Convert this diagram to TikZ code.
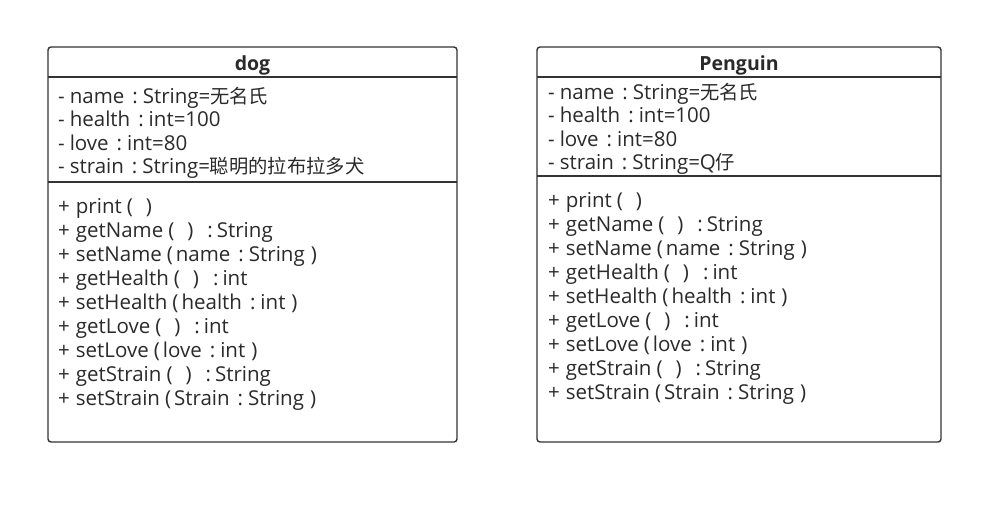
\documentclass[tikz,border=0pt]{standalone}
\usepackage{fontspec}
\setmainfont{Open Sans}
\newfontfamily\cjkf{Noto Sans CJK SC}
\newcommand\cjk[1]{{\cjkf\fontsize{19.3}{24}\selectfont #1}}
\definecolor{lc}{HTML}{333333}
\definecolor{tc}{HTML}{2A2A2A}
\newcommand\hs[1]{\hspace{#1pt}}
\newcommand\cl{\hs{8}:\hs{5}}
\newcommand\pcl{\hs{14}:\hs{4}}
\newcommand\ep{\hs{5}(\hs{13})}
\newcommand\op{\hs{5}(\hs{3}}
\newcommand\cp{\hs{6})}
\newcommand\mi{-\hs{5}}
\newcommand\pl{+\hs{6}}
\begin{document}
\begin{tikzpicture}[x=1pt,y=-1pt,
  box/.style={draw=lc,line width=1.4pt,rounded corners=3pt},
  sep/.style={draw=lc,line width=1.4pt},
  txt/.style={anchor=base west,inner sep=0pt,text=tc,font=\fontsize{20.5}{24}\selectfont},
  ttl/.style={anchor=base,inner sep=0pt,text=tc,font=\fontsize{19.5}{24}\selectfont\bfseries}]
\useasboundingbox (0,0) rectangle (1002,504);
% dog
\draw[box] (48,47) rectangle (457,442);
\draw[sep] (48,77) -- (457,77);
\draw[sep] (48,182) -- (457,182);
\node[ttl] (dogt) at (252.5,70) {dog};
\node[txt] (d1) at (58,103) {\mi name\cl String=\cjk{无名氏}};
\node[txt] (d2) at (58,126.5) {\mi health\cl int=100};
\node[txt] (d3) at (58,150) {\mi love\cl int=80};
\node[txt] (d4) at (58,173.5) {\mi strain\cl String=\cjk{聪明的拉布拉多犬}};
\node[txt] (dm1) at (58,213) {\pl print\ep};
\node[txt] (dm2) at (58,237) {\pl getName\ep\pcl String};
\node[txt] (dm3) at (58,261) {\pl setName\op name\cl String\cp};
\node[txt] (dm4) at (58,285) {\pl getHealth\ep\pcl int};
\node[txt] (dm5) at (58,309) {\pl setHealth\op health\cl int\cp};
\node[txt] (dm6) at (58,333) {\pl getLove\ep\pcl int};
\node[txt] (dm7) at (58,357) {\pl setLove\op love\cl int\cp};
\node[txt] (dm8) at (58,381) {\pl getStrain\ep\pcl String};
\node[txt] (dm9) at (58,405) {\pl setStrain\op Strain\cl String\cp};
% penguin
\draw[box] (537,47) rectangle (941,442);
\draw[sep] (537,77) -- (941,77);
\draw[sep] (537,176) -- (941,176);
\node[ttl] (pt) at (739,70.5) {Penguin};
\node[txt] (p1) at (548,99) {\mi name\cl String=\cjk{无名氏}};
\node[txt] (p2) at (548,122.5) {\mi health\cl int=100};
\node[txt] (p3) at (548,146) {\mi love\cl int=80};
\node[txt] (p4) at (548,169.5) {\mi strain\cl String=Q\cjk{仔}};
\node[txt] (pm1) at (548,207) {\pl print\ep};
\node[txt] (pm2) at (548,231) {\pl getName\ep\pcl String};
\node[txt] (pm3) at (548,255) {\pl setName\op name\cl String\cp};
\node[txt] (pm4) at (548,279) {\pl getHealth\ep\pcl int};
\node[txt] (pm5) at (548,303) {\pl setHealth\op health\cl int\cp};
\node[txt] (pm6) at (548,327) {\pl getLove\ep\pcl int};
\node[txt] (pm7) at (548,351) {\pl setLove\op love\cl int\cp};
\node[txt] (pm8) at (548,375) {\pl getStrain\ep\pcl String};
\node[txt] (pm9) at (548,399) {\pl setStrain\op Strain\cl String\cp};
\end{tikzpicture}
\end{document}
